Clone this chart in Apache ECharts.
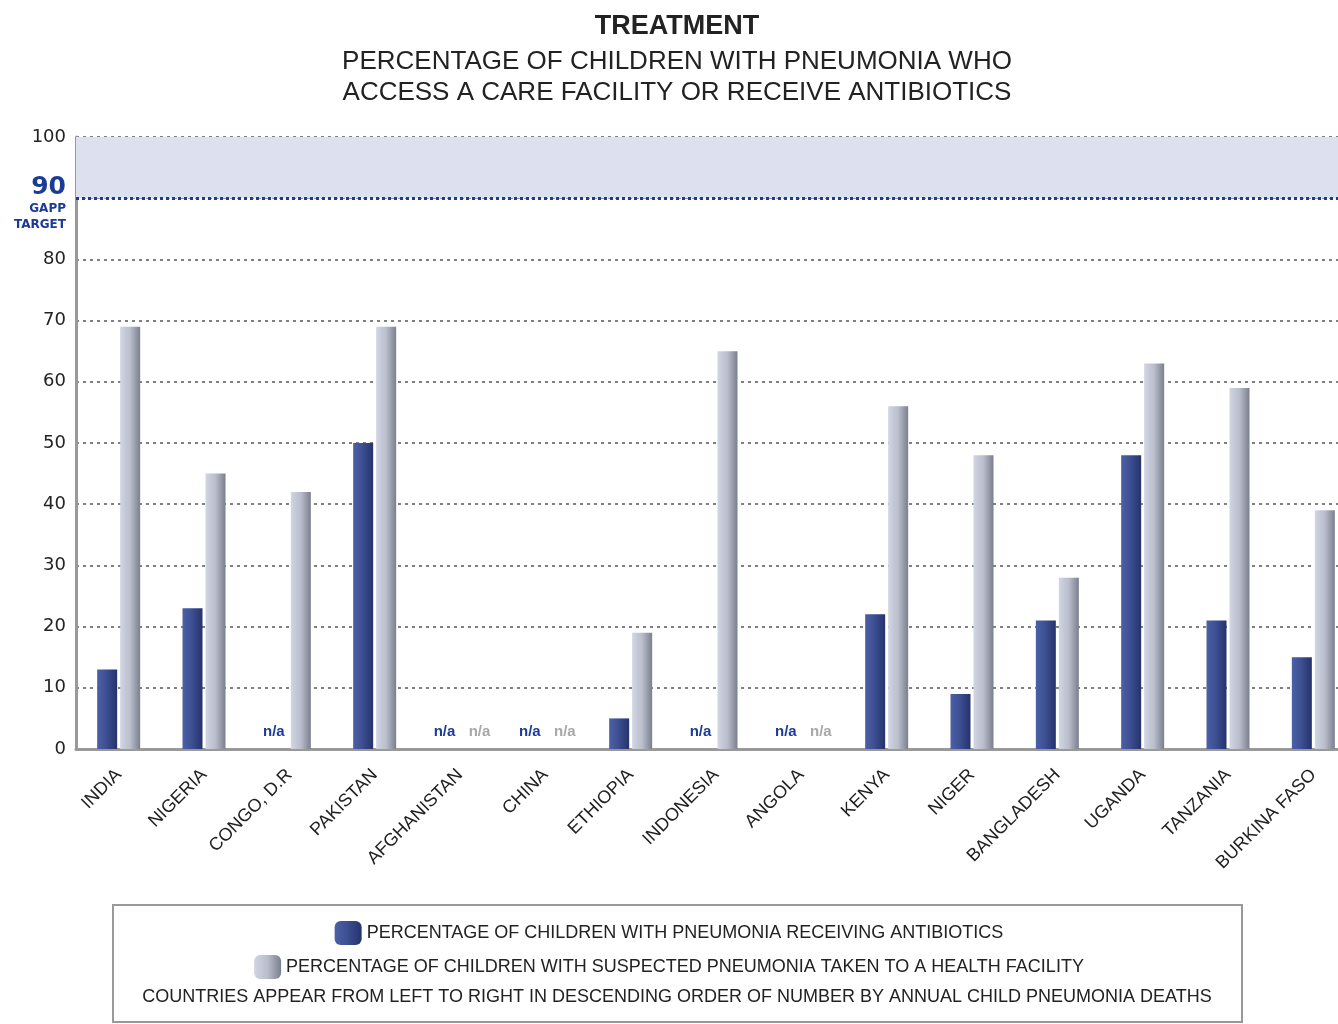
<!DOCTYPE html>
<html>
<head>
<meta charset="utf-8">
<script src="https://cdn.jsdelivr.net/npm/echarts@6/dist/echarts.min.js"></script>
<style>
  html, body { margin: 0; padding: 0; background: #fff; }
  #chart { width: 1338px; height: 1024px; }
</style>
</head>
<body>
<div id="chart"></div>
<script>
// countries, in order of annual child pneumonia deaths
const countries = ['INDIA', 'NIGERIA', 'CONGO, D.R', 'PAKISTAN', 'AFGHANISTAN', 'CHINA', 'ETHIOPIA',
  'INDONESIA', 'ANGOLA', 'KENYA', 'NIGER', 'BANGLADESH', 'UGANDA', 'TANZANIA', 'BURKINA FASO'];
// null = n/a
const antibiotics = [13, 23, null, 50, null, null, 5, null, null, 22, 9, 21, 48, 21, 15];
const facility = [69, 45, 42, 69, null, null, 19, 65, null, 56, 48, 28, 63, 59, 39];
const yTicks = [0, 10, 20, 30, 40, 50, 60, 70, 80, 90, 100];
const gappTarget = 90;

const FONT = "'Liberation Sans', Arial, sans-serif";
const WIDE = "'DejaVu Sans', sans-serif";

const blueFill = new echarts.graphic.LinearGradient(0, 0, 1, 0, [
  { offset: 0, color: '#4c60a6' },
  { offset: 0.45, color: '#3d5093' },
  { offset: 1, color: '#26336b' }
]);
const greyFill = new echarts.graphic.LinearGradient(0, 0, 1, 0, [
  { offset: 0, color: '#d2d5e2' },
  { offset: 0.5, color: '#b9bdcc' },
  { offset: 1, color: '#7b7f8d' }
]);

// n/a entries get a zero-height bar with a label
function toData(values, naColor, naOffset) {
  return values.map(v => {
    if (v !== null) return v;
    return {
      value: 0,
      label: {
        show: true,
        formatter: 'n/a',
        position: 'top',
        distance: 10,
        offset: naOffset,
        color: naColor,
        fontSize: 15,
        fontWeight: 'bold',
        fontFamily: FONT
      }
    };
  });
}

const chart = echarts.init(document.getElementById('chart'));

const option = {
  backgroundColor: '#fff',
  animation: false,
  title: [{
    text: 'TREATMENT',
    left: 672,
    top: 8,
    textAlign: 'center',
    textStyle: { fontFamily: FONT, fontSize: 27, fontWeight: 'bold', color: '#222' }
  }, {
    text: 'PERCENTAGE OF CHILDREN WITH PNEUMONIA WHO\nACCESS A CARE FACILITY OR RECEIVE ANTIBIOTICS',
    left: 672,
    top: 41,
    textAlign: 'center',
    textStyle: { fontFamily: FONT, fontSize: 26, fontWeight: 'normal', color: '#222', lineHeight: 31 }
  }],
  legend: [{
    data: ['PERCENTAGE OF CHILDREN WITH PNEUMONIA RECEIVING ANTIBIOTICS'],
    left: 'center',
    top: 916,
    itemWidth: 27,
    itemHeight: 24,
    icon: 'roundRect',
    textStyle: { fontFamily: FONT, fontSize: 18, color: '#222' }
  }, {
    data: ['PERCENTAGE OF CHILDREN WITH SUSPECTED PNEUMONIA TAKEN TO A HEALTH FACILITY'],
    left: 'center',
    top: 950,
    itemWidth: 27,
    itemHeight: 24,
    icon: 'roundRect',
    textStyle: { fontFamily: FONT, fontSize: 18, color: '#222' }
  }],
  graphic: [{
    type: 'rect',
    shape: { x: 113, y: 905, width: 1129, height: 117 },
    style: { fill: 'none', stroke: '#999', lineWidth: 2 },
    z: 0
  }, {
    type: 'text',
    x: 677,
    y: 997,
    style: {
      text: 'COUNTRIES APPEAR FROM LEFT TO RIGHT IN DESCENDING ORDER OF NUMBER BY ANNUAL CHILD PNEUMONIA DEATHS',
      fontFamily: FONT,
      fontSize: 18,
      fill: '#222',
      align: 'center',
      verticalAlign: 'middle'
    }
  }],
  grid: {
    left: 76,
    top: 137,
    width: 1280,
    height: 612,
    containLabel: false,
    outerBoundsMode: 'none'
  },
  xAxis: {
    type: 'category',
    data: countries,
    axisLine: { lineStyle: { color: '#999', width: 3 } },
    axisTick: { show: false },
    axisLabel: {
      rotate: 45,
      interval: 0,
      margin: 23,
      fontFamily: FONT,
      fontSize: 18,
      color: '#222'
    }
  },
  yAxis: {
    type: 'value',
    min: 0,
    max: 100,
    interval: 10,
    axisLine: { show: true, lineStyle: { color: '#999', width: 3 } },
    axisTick: { show: false },
    axisLabel: {
      margin: 10,
      fontFamily: WIDE,
      fontSize: 18,
      color: '#222',
      formatter: v => {
        if (v === gappTarget) return '{sp| }\n{big|90}\n{small|GAPP}\n{small|TARGET}';
        return yTicks.includes(v) ? String(v) : '';
      },
      rich: {
        sp: { fontSize: 8, lineHeight: 10 },
        big: { fontSize: 25, fontWeight: 'bold', color: '#1a3b96', fontFamily: WIDE, lineHeight: 28, align: 'right' },
        small: { fontSize: 12, fontWeight: 'bold', color: '#1a3b96', fontFamily: WIDE, lineHeight: 16, align: 'right' }
      }
    },
    splitLine: { lineStyle: { color: '#808080', width: 2, type: [3, 4] } }
  },
  series: [{
    name: 'PERCENTAGE OF CHILDREN WITH PNEUMONIA RECEIVING ANTIBIOTICS',
    type: 'bar',
    data: toData(antibiotics, '#1a3b96', [-4, 0]),
    barWidth: 20,
    barGap: '15%',
    itemStyle: { color: blueFill },
    markArea: {
      silent: true,
      itemStyle: { color: '#dde0ef' },
      data: [[{ yAxis: gappTarget }, { yAxis: 100 }]]
    },
    markLine: {
      silent: true,
      symbol: 'none',
      label: { show: false },
      lineStyle: { color: '#1a3b96', width: 3, type: [3, 3] },
      data: [{ yAxis: gappTarget }]
    }
  }, {
    name: 'PERCENTAGE OF CHILDREN WITH SUSPECTED PNEUMONIA TAKEN TO A HEALTH FACILITY',
    type: 'bar',
    data: toData(facility, '#a8a8a8', [8, 0]),
    barWidth: 20,
    itemStyle: { color: greyFill }
  }]
};

chart.setOption(option);
</script>
</body>
</html>
